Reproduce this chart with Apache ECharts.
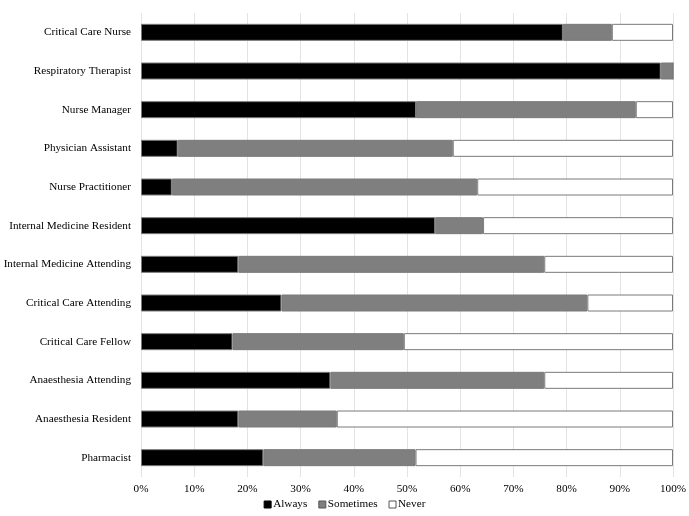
<!DOCTYPE html>
<html>
<head>
<meta charset="utf-8">
<script src="https://cdn.jsdelivr.net/npm/echarts@6/dist/echarts.min.js"></script>
<style>
  html, body { margin: 0; padding: 0; background: #fff; }
  #chart { width: 689px; height: 516px; }
</style>
</head>
<body>
<div id="chart"></div>
<script>
  // categories from bottom to top (category axis on y starts at bottom)
  var roles = ['Pharmacist', 'Anaesthesia Resident', 'Anaesthesia Attending', 'Critical Care Fellow',
    'Critical Care Attending', 'Internal Medicine Attending', 'Internal Medicine Resident',
    'Nurse Practitioner', 'Physician Assistant', 'Nurse Manager', 'Respiratory Therapist', 'Critical Care Nurse'];
  var always = [23.0, 18.3, 35.6, 17.2, 26.4, 18.3, 55.3, 5.8, 6.9, 51.7, 97.7, 79.3];
  var sometimes = [28.6, 18.5, 40.2, 32.2, 57.5, 57.5, 9.0, 57.4, 51.7, 41.3, 2.3, 9.2];
  var never = [48.4, 63.2, 24.2, 50.6, 16.1, 24.2, 35.7, 36.8, 41.4, 7.0, 0, 11.5];

  var font = '"Liberation Serif", "Times New Roman", serif';
  var chart = echarts.init(document.getElementById('chart'));

  function bar(name, data, color) {
    return {
      name: name,
      type: 'bar',
      stack: 'total',
      data: data,
      barWidth: 17,
      itemStyle: { color: color, borderColor: '#7a7a7a', borderWidth: 1 },
      emphasis: { disabled: true }
    };
  }

  chart.setOption({
    animation: false,
    textStyle: { fontFamily: font },
    grid: { left: 141, right: 16, top: 13, bottom: 39, containLabel: false, outerBoundsMode: 'none' },
    legend: {
      bottom: 1,
      left: 'center',
      itemWidth: 7,
      itemHeight: 7,
      itemGap: 11,
      icon: 'rect',
      textStyle: { fontFamily: font, fontSize: 11.2, color: '#000', padding: [0, 0, 0, -3] },
      data: [
        { name: 'Always', itemStyle: { color: '#000', borderColor: '#000', borderWidth: 1 } },
        { name: 'Sometimes', itemStyle: { color: '#7f7f7f', borderColor: '#555', borderWidth: 1 } },
        { name: 'Never', itemStyle: { color: '#fff', borderColor: '#555', borderWidth: 1 } }
      ]
    },
    xAxis: {
      type: 'value',
      min: 0,
      max: 100,
      interval: 10,
      axisLine: { show: false },
      axisTick: { show: false },
      splitLine: { show: true, lineStyle: { color: '#e3e3e3', width: 1 } },
      axisLabel: { formatter: '{value}%', color: '#000', fontSize: 11.2, fontFamily: font, margin: 7 }
    },
    yAxis: {
      type: 'category',
      data: roles,
      axisLine: { show: false },
      axisTick: { show: false },
      axisLabel: { color: '#000', fontSize: 11.2, fontFamily: font, margin: 10 }
    },
    series: [
      bar('Always', always, '#000000'),
      bar('Sometimes', sometimes, '#7f7f7f'),
      bar('Never', never, '#ffffff')
    ]
  });
</script>
</body>
</html>
